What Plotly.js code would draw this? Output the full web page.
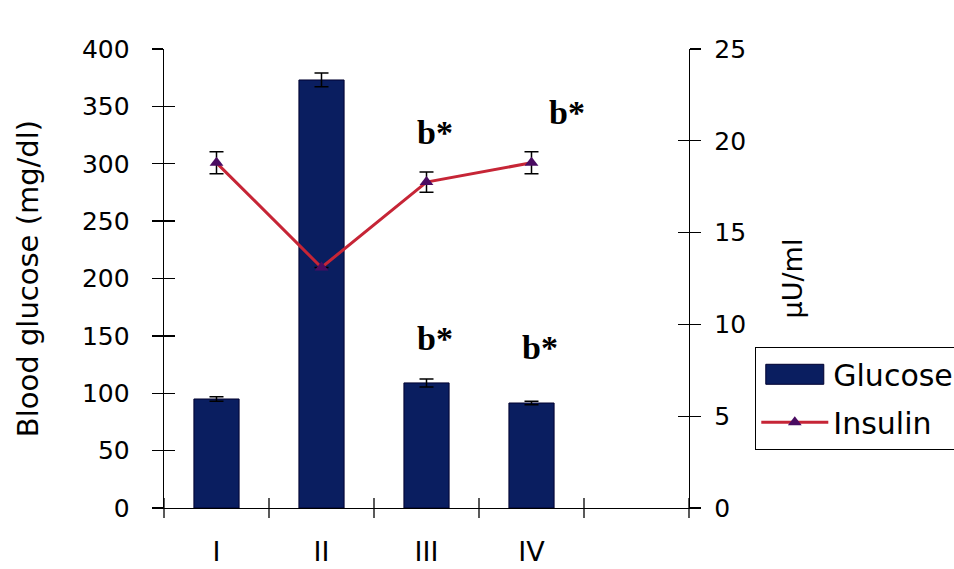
<!DOCTYPE html>
<html>
<head>
<meta charset="utf-8">
<script src="https://cdn.plot.ly/plotly-3.0.1.min.js"></script>
<style>
  html, body { margin: 0; padding: 0; background: #ffffff; }
  #chart { width: 954px; height: 569px; }
</style>
</head>
<body>
<div id="chart"></div>
<script>
// ---- data ----
const groups = ['I', 'II', 'III', 'IV'];
const glucose = [95, 373, 109, 91.5];          // mg/dl (left axis)
const glucoseErr = [2, 6, 3.5, 1.5];
const insulin = [18.8, 13.1, 17.75, 18.8];      // µU/ml (right axis)
const insulinErr = [0.6, 0, 0.55, 0.6];

// significance labels
const sigText = ['a*', 'b*', 'b*', 'b*', 'b*'];
const sigGroup = ['II', 'III', 'IV', 'III', 'IV'];
const sigY = [415, 327, 345, 148, 140];        // in left-axis units
const sigShift = [8, 8, 35, 8, 8];

const SANS = 'DejaVu Sans, Arial, sans-serif';
const SERIF = 'Liberation Serif, Times New Roman, serif';

const PLOT_H = 569 - 49 - 61;
const nSlots = groups.length + 1;   // the x axis leaves one empty slot on the right

const traces = [
  {
    type: 'bar', name: 'Glucose', x: groups, y: glucose,
    xaxis: 'x', yaxis: 'y', legendgroup: 'g1',
    marker: { color: '#0a1e60', line: { color: '#000030', width: 1 } },
    error_y: { type: 'data', array: glucoseErr, visible: true, color: '#000000', thickness: 1.5, width: 7 }
  },
  {
    type: 'scatter', mode: 'lines+markers', name: 'Insulin', x: groups, y: insulin,
    xaxis: 'x', yaxis: 'y2', legendgroup: 'g2',
    line: { color: '#c62536', width: 3 },
    marker: { symbol: 'triangle-up', size: 12, color: '#4a0c62' },
    error_y: { type: 'data', array: insulinErr, visible: true, color: '#000000', thickness: 1.5, width: 7 }
  },
  // empty helper traces so the overlay tick axes (inner half of the crossing tick marks) get drawn
  { type: 'scatter', x: [], y: [], xaxis: 'x', yaxis: 'y3', showlegend: false, hoverinfo: 'skip' },
  { type: 'scatter', x: [], y: [], xaxis: 'x', yaxis: 'y4', showlegend: false, hoverinfo: 'skip' }
];

const annotations = sigText.map((t, i) => ({
  text: t, x: sigGroup[i], y: sigY[i], xref: 'x', yref: 'y',
  xshift: sigShift[i], showarrow: false, xanchor: 'center', yanchor: 'middle',
  font: { family: SERIF, size: 34, color: '#000000', weight: 'bold' }
}));

// crossing tick marks on the x axis at every category boundary
const shapes = [];
for (let i = 0; i <= nSlots; i++) {
  shapes.push({
    type: 'line', xref: 'paper', yref: 'paper',
    x0: i / nSlots, x1: i / nSlots, y0: -10 / PLOT_H, y1: 10 / PLOT_H,
    line: { color: '#000000', width: 1.3 }, layer: 'above'
  });
}

const layout = {
  width: 954, height: 569,
  margin: { l: 164, r: 265, t: 49, b: 61, autoexpand: false },
  paper_bgcolor: '#ffffff', plot_bgcolor: '#ffffff',
  bargap: 0.57,
  showlegend: true,
  legend: {
    x: 1.1257, y: 0.3508, xanchor: 'left', yanchor: 'top',
    bordercolor: '#000000', borderwidth: 1.3, bgcolor: '#ffffff',
    font: { family: SANS, size: 30, color: '#000000' },
    itemwidth: 67, tracegroupgap: 6, traceorder: 'grouped'
  },
  xaxis: {
    type: 'category', categoryorder: 'array', categoryarray: groups,
    range: [-0.5, nSlots - 0.5], ticks: '',
    showgrid: false, zeroline: false,
    showline: true, linecolor: '#000000', linewidth: 1.3,
    ticklabelstandoff: 19,
    tickfont: { family: SANS, size: 27, color: '#000000' }
  },
  yaxis: {
    range: [0, 400], dtick: 50, tick0: 0, showgrid: false, zeroline: false,
    showline: true, linecolor: '#000000', linewidth: 1.3,
    ticks: 'outside', ticklen: 11, tickwidth: 1.3, tickcolor: '#000000',
    ticklabelstandoff: 17,
    tickfont: { family: SANS, size: 25, color: '#000000' },
    title: { text: 'Blood glucose (mg/dl)', font: { family: SANS, size: 29, color: '#000000' }, standoff: 34 }
  },
  yaxis3: {
    range: [0, 400], dtick: 50, tick0: 0, overlaying: 'y', side: 'left', anchor: 'x',
    showgrid: false, zeroline: false, showline: false, showticklabels: false,
    ticks: 'inside', ticklen: 11, tickwidth: 1.3, tickcolor: '#000000'
  },
  yaxis2: {
    range: [0, 25], dtick: 5, tick0: 0, overlaying: 'y', side: 'right', anchor: 'x',
    showgrid: false, zeroline: false, showline: true, linecolor: '#000000', linewidth: 1.3,
    ticks: 'outside', ticklen: 11, tickwidth: 1.3, tickcolor: '#000000',
    ticklabelstandoff: 8,
    tickfont: { family: SANS, size: 25, color: '#000000' },
    title: { text: 'µU/ml', font: { family: SANS, size: 27, color: '#000000' }, standoff: 38 }
  },
  yaxis4: {
    range: [0, 25], dtick: 5, tick0: 0, overlaying: 'y', side: 'right', anchor: 'x',
    showgrid: false, zeroline: false, showline: false, showticklabels: false,
    ticks: 'inside', ticklen: 11, tickwidth: 1.3, tickcolor: '#000000'
  },
  shapes: shapes,
  annotations: annotations
};

Plotly.newPlot('chart', traces, layout, { staticPlot: true, displayModeBar: false }).then(function (gd) {
  // widen the bar legend swatch to the wide rectangle of the reference legend
  gd.querySelectorAll('.legend .traces').forEach(function (tr) {
    var txt = tr.querySelector('text.legendtext');
    if (txt && txt.textContent === 'Glucose') {
      tr.querySelectorAll('.legendpoints path').forEach(function (p) {
        p.setAttribute('d', 'M29,10H-29V-10H29Z');
      });
    }
  });
});
</script>
</body>
</html>
